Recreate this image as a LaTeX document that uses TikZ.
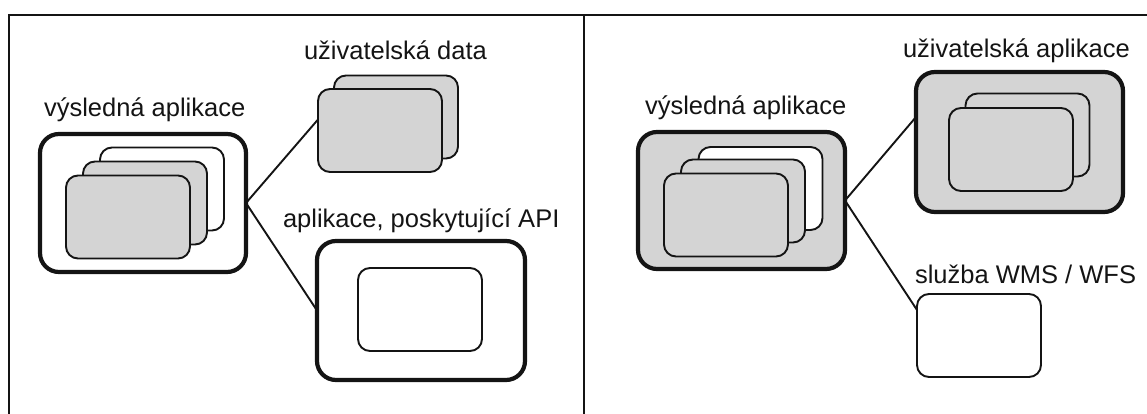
\documentclass[tikz,border=0pt]{standalone}
\usepackage{fontspec}
\setmainfont{Liberation Sans}
\usetikzlibrary{calc}
\definecolor{cardgray}{RGB}{212,212,212}
\definecolor{inkcol}{RGB}{20,20,20}
\tikzset{
  outerbox/.style={draw=inkcol, line width=4.2pt, rounded corners=19pt, inner sep=0pt, outer sep=0pt},
  cardbox/.style={draw=inkcol, line width=1.9pt, rounded corners=12pt, inner sep=0pt, outer sep=0pt,
                  minimum width=124pt, minimum height=83pt},
  link/.style={draw=inkcol, line width=1.9pt},
  frameline/.style={draw=inkcol, line width=1.5pt},
  label/.style={anchor=base west, inner sep=0pt, outer sep=0pt, text=inkcol,
                font=\fontsize{25.5}{28}\selectfont}
}
\begin{document}
\begin{tikzpicture}[x=1pt,y=-1pt]
\useasboundingbox (0,0) rectangle (1147,414);
% frame
\coordinate (ftl) at (9,15);
\coordinate (ftr) at (1147,15);
\coordinate (fbl) at (9,414);
\coordinate (dtop) at (584,15);
\coordinate (dbot) at (584,414);
\draw[frameline] (fbl) -- (ftl) -- (ftr);
\draw[frameline, line width=2pt] (dtop) -- (dbot);

% ---------- left panel ----------
\node[label] (tL) at (44,117) {výsledná aplikace};
\node[outerbox, fill=white, minimum width=206pt, minimum height=138pt] (Lout) at (143,203) {};
\node[cardbox, fill=white] (Lc3) at (162,189) {};
\node[cardbox, fill=cardgray] (Lc2) at (145,203) {};
\node[cardbox, fill=cardgray] (Lc1) at (128,217) {};

\node[label] (tUD) at (304,60) {uživatelská data};
\node[cardbox, fill=cardgray] (UDb) at (396,117) {};
\node[cardbox, fill=cardgray] (UDf) at (380,130.5) {};

\node[label] (tAPI) at (283,227) {aplikace, poskytující API};
\node[outerbox, fill=white, minimum width=208pt, minimum height=139pt] (API) at (421,310.5) {};
\node[cardbox, fill=white] (APIin) at (420,309.5) {};

\draw[link] ([yshift=11pt]UDf.west) -- (Lout.east) -- (API.west);

% ---------- right panel ----------
\node[label] (tR) at (645,115) {výsledná aplikace};
\node[outerbox, fill=cardgray, minimum width=207pt, minimum height=137pt] (Rout) at (741.5,200.5) {};
\node[cardbox, fill=white] (Rc3) at (760.5,188.5) {};
\node[cardbox, fill=cardgray] (Rc2) at (743,201) {};
\node[cardbox, fill=cardgray] (Rc1) at (726,215) {};

\node[label] (tUA) at (903,58) {uživatelská aplikace};
\node[outerbox, fill=cardgray, minimum width=207pt, minimum height=140pt] (UA) at (1019.5,142) {};
\node[cardbox, fill=cardgray] (UAb) at (1027.5,135) {};
\node[cardbox, fill=cardgray] (UAf) at (1011,149.5) {};

\node[label] (tWMS) at (915,283) {služba WMS / WFS};
\node[cardbox, fill=white] (WMS) at (979,335.5) {};

\draw[link] ([yshift=25pt]UA.west) -- (Rout.east) -- ([yshift=25.5pt]WMS.west);
\end{tikzpicture}
\end{document}
